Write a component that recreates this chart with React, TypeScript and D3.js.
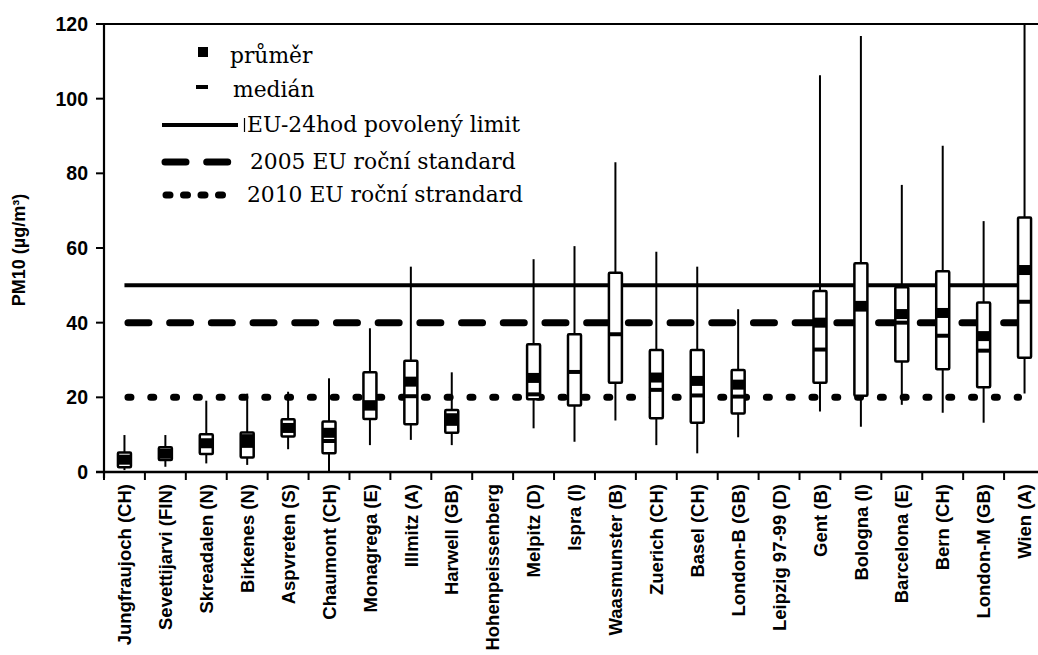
import React from 'react';
import * as d3 from 'd3';

// PM10 statistics per monitoring station (µg/m³)
const categories = [
  'Jungfraujoch (CH)', 'Sevettijarvi (FIN)', 'Skreadalen (N)', 'Birkenes (N)', 'Aspvreten (S)',
  'Chaumont (CH)', 'Monagrega (E)', 'Illmitz (A)', 'Harwell (GB)', 'Hohenpeissenberg',
  'Melpitz (D)', 'Ispra (I)', 'Waasmunster (B)', 'Zuerich (CH)', 'Basel (CH)', 'London-B (GB)',
  'Leipzig 97-99 (D)', 'Gent (B)', 'Bologna (I)', 'Barcelona (E)', 'Bern (CH)', 'London-M (GB)', 'Wien (A)',
];
const whiskerLow: (number | null)[] = [0.5, 1.4, 2.3, 1.9, 6.1, 0, 7.2, 8.6, 7.2, null, 11.7, 8.1, 13.8, 7.2, 5, 9.3, null, 16.2, 12.1, 18, 15.9, 13.2, 21];
const quartile1: (number | null)[] = [1.3, 3.2, 4.8, 3.9, 9.5, 5, 14.2, 12.8, 10.5, null, 19.5, 17.8, 23.9, 14.4, 13.2, 15.7, null, 23.9, 20.4, 29.6, 27.5, 22.7, 30.6];
const medians: (number | null)[] = [3, 4.8, 7, 7, 11.5, 8.3, 17, 20.3, 12.9, null, 20.8, 26.8, 36.9, 22, 20.5, 20.2, null, 32.8, 43.5, 40, 36.5, 32.5, 45.6];
const quartile3: (number | null)[] = [5.2, 6.6, 10.1, 10.6, 14.1, 13.5, 26.7, 29.8, 16.6, null, 34.2, 36.9, 53.4, 32.7, 32.7, 27.3, null, 48.5, 55.9, 49.5, 53.8, 45.4, 68.2];
const whiskerHigh: (number | null)[] = [9.9, 9.9, 19.1, 21, 21.5, 25.1, 38.5, 55, 26.7, null, 57, 60.5, 83, 59, 55, 43.6, null, 106.3, 116.8, 76.9, 87.4, 67.2, 120];
const means: (number | null)[] = [3.3, 4.9, 7.7, 8.8, 11.8, 10.5, 17.9, 24.2, 14.4, null, 25.2, null, null, 25.3, 24.4, 23.4, null, 40, 44.5, 42.3, 42.6, 36.4, 54.1];

const yTicks = [0, 20, 40, 60, 80, 100, 120];

// EU limit values
const dailyLimit = 50;
const annual2005 = 40;
const annual2010 = 20;

const legendLabels = ['průměr', 'medián', 'EU-24hod povolený limit', '2005 EU roční standard', '2010 EU roční strandard'];

const W = 1038;
const H = 655;
const left = 104;
const top = 24;
const bottom = 472;
const rightEdge = 1045;

export default function App() {
  const x = d3.scaleBand<string>().domain(categories).range([left, rightEdge]).padding(0);
  const y = d3.scaleLinear().domain([0, 120]).range([bottom, top]);
  const bw = x.bandwidth();
  const cx = (c: string) => (x(c) as number) + bw / 2;

  const boxW = 13;
  const meanW = 11;
  const meanH = 10;

  const refX1 = cx(categories[0]);
  const refX2 = cx(categories[categories.length - 1]) + 2;

  const axisFont = '"Liberation Sans", Arial, sans-serif';
  const legendFont = '"DejaVu Serif", serif';
  const legendSize = 21.8;

  return (
    <svg width={W} height={H} style={{ position: 'absolute', left: 0, top: 0, background: '#fff' }}>
      <rect x={0} y={0} width={W} height={H} fill="#fff" />

      {/* frame: left axis, top border, bottom axis */}
      <line x1={left} y1={top} x2={W} y2={top} stroke="#000" strokeWidth={2} />
      <line x1={left} y1={top - 1} x2={left} y2={bottom + 6} stroke="#000" strokeWidth={2.2} />
      <line x1={left - 8} y1={bottom} x2={W} y2={bottom} stroke="#000" strokeWidth={2.4} />

      {/* y ticks */}
      {yTicks.map((t) => (
        <g key={t}>
          <line x1={left - 8} x2={left} y1={y(t)} y2={y(t)} stroke="#000" strokeWidth={2} />
          <text x={88} y={y(t)} dy="0.36em" textAnchor="end" fontFamily={axisFont} fontWeight="bold" fontSize={19.5} fill="#000">
            {t}
          </text>
        </g>
      ))}

      <text
        transform={`translate(25,250) rotate(-90)`}
        textAnchor="middle"
        fontFamily={axisFont}
        fontWeight="bold"
        fontSize={18}
        fill="#000"
      >
        PM10 (µg/m³)
      </text>

      {/* x ticks between stations */}
      {categories.map((c, i) => (
        <line key={'t' + i} x1={(x(c) as number)} x2={(x(c) as number)} y1={bottom} y2={bottom + 8} stroke="#000" strokeWidth={2} />
      ))}

      {/* x labels */}
      {categories.map((c) => (
        <text
          key={'l' + c}
          transform={`translate(${cx(c)},${bottom + 12}) rotate(-90)`}
          dy="0.36em"
          textAnchor="end"
          fontFamily={axisFont}
          fontWeight="bold"
          fontSize={18.5}
          fill="#000"
        >
          {c}
        </text>
      ))}

      {/* EU limit lines */}
      <line x1={refX1} x2={refX2} y1={y(dailyLimit)} y2={y(dailyLimit)} stroke="#000" strokeWidth={4} />
      <line x1={refX1 + 3.5} x2={refX2} y1={y(annual2005)} y2={y(annual2005)} stroke="#000" strokeWidth={7} strokeLinecap="round" strokeDasharray="21 20.7" />
      <line x1={refX1 + 3.5} x2={refX2 - 8} y1={y(annual2010)} y2={y(annual2010)} stroke="#000" strokeWidth={7} strokeLinecap="round" strokeDasharray="3 19.8" />

      {/* box plots */}
      {categories.map((c, i) => {
        const lo = whiskerLow[i];
        const hi = whiskerHigh[i];
        const q1 = quartile1[i];
        const q3 = quartile3[i];
        const md = medians[i];
        const mn = means[i];
        if (lo == null || hi == null || q1 == null || q3 == null) return null;
        const xc = cx(c);
        return (
          <g key={'b' + c}>
            <line x1={xc} x2={xc} y1={y(lo)} y2={y(hi)} stroke="#000" strokeWidth={2} />
            <rect x={xc - boxW / 2} y={y(q3)} width={boxW} height={y(q1) - y(q3)} fill="#fff" stroke="#000" strokeWidth={2.5} rx={1} />
            {md != null && <line x1={xc - boxW / 2} x2={xc + boxW / 2} y1={y(md)} y2={y(md)} stroke="#000" strokeWidth={4} />}
            {mn != null && <rect x={xc - meanW / 2 - 0.5} y={y(mn) - meanH / 2} width={meanW + 1} height={meanH} fill="#000" />}
          </g>
        );
      })}

      {/* legend */}
      <rect x={198} y={47} width={10} height={10} fill="#000" />
      <text x={230} y={63} fontFamily={legendFont} fontSize={legendSize} fill="#000">{legendLabels[0]}</text>
      <line x1={196} x2={208} y1={87} y2={87} stroke="#000" strokeWidth={4} />
      <text x={233} y={97} fontFamily={legendFont} fontSize={legendSize} fill="#000">{legendLabels[1]}</text>
      <line x1={162} x2={238} y1={125} y2={125} stroke="#000" strokeWidth={4} />
      <line x1={244.5} x2={244.5} y1={118} y2={132} stroke="#000" strokeWidth={1.2} />
      <text x={247} y={132} fontFamily={legendFont} fontSize={legendSize} fill="#000">{legendLabels[2]}</text>
      <line x1={165} x2={228} y1={162} y2={162} stroke="#000" strokeWidth={7} strokeLinecap="round" strokeDasharray="21 20.7" />
      <text x={250} y={169} fontFamily={legendFont} fontSize={legendSize} fill="#000">{legendLabels[3]}</text>
      <line x1={166} x2={236} y1={195} y2={195} stroke="#000" strokeWidth={7} strokeLinecap="round" strokeDasharray="4 13.5" />
      <text x={247} y={202} fontFamily={legendFont} fontSize={legendSize} fill="#000">{legendLabels[4]}</text>
    </svg>
  );
}
